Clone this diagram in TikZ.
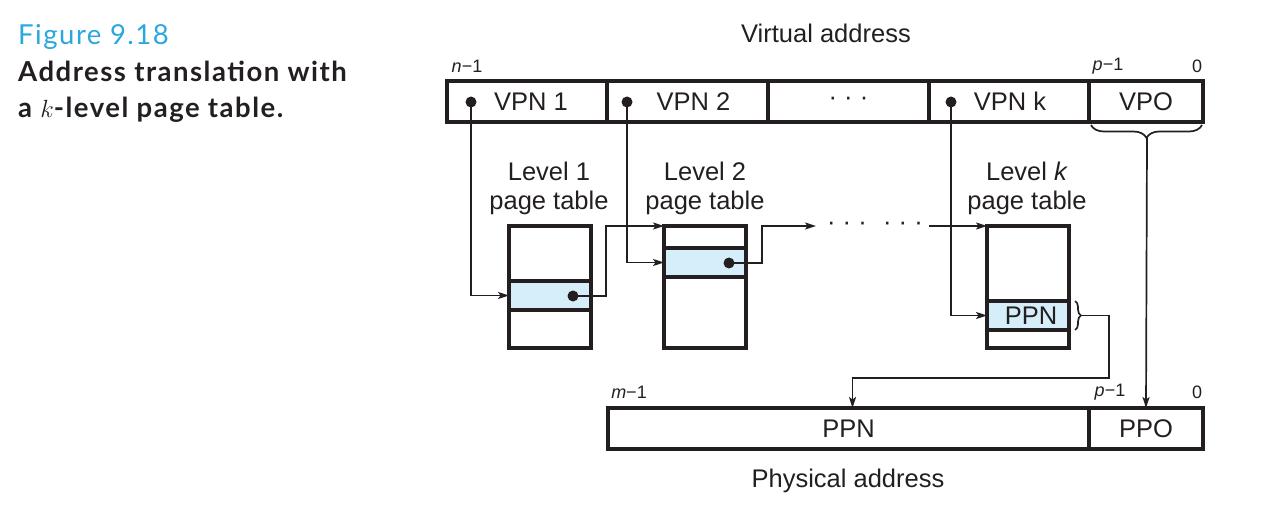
\documentclass[tikz,border=0pt]{standalone}
\usepackage{fontspec}
\setmainfont{Liberation Sans}
\newfontfamily\capfont[LetterSpace=5.5]{Lato}
\usetikzlibrary{arrows.meta,decorations.pathreplacing}
\definecolor{ink}{HTML}{231F20}
\definecolor{figblue}{HTML}{2AA7DF}
\definecolor{rowblue}{HTML}{D5EEF9}
\begin{document}
\begin{tikzpicture}[x=1pt,y=-1pt,
  cell/.style={draw=ink, line width=3.2pt, inner sep=0pt, outer sep=0pt,
    anchor=north west, text=ink, font=\fontsize{25.5}{30}\selectfont},
  row/.style={cell, fill=rowblue},
  dot/.style={circle, fill=ink, minimum size=11pt, inner sep=0pt},
  conn/.style={draw=ink, line width=1.7pt,
    -{Stealth[length=11pt,width=7pt,inset=2.5pt]}},
  wire/.style={draw=ink, line width=1.7pt},
  lbl/.style={text=ink, font=\fontsize{25.5}{29}\selectfont, inner sep=0pt, align=center},
  bit/.style={text=ink, font=\fontsize{18}{20}\selectfont, inner sep=0pt},
  caption/.style={anchor=base west, inner sep=0pt, font=\capfont\fontsize{27.5}{30}\selectfont}
]
\useasboundingbox (0,0) rectangle (1287,505);

% caption
\node[caption, text=figblue] (cap1) at (18,45) {Figure 9.18};
\node[caption, text=ink] (cap2) at (18,82) {\bfseries Address translation with};
\node[caption, text=ink] (cap3) at (18,118) {\bfseries a $k$-level page table.};

% virtual address
\node[lbl] (valbl) at (826,33) {Virtual address};
\node[bit] (vn) at (467,66) {\textit{n}−1};
\node[bit] (vp) at (1108,66) {\textit{p}−1};
\node[bit] (v0) at (1197,66) {0};
\node[cell, minimum width=160pt, minimum height=41pt] (vpn1) at (447,81) {\hspace*{8pt}VPN 1};
\node[cell, minimum width=161pt, minimum height=41pt] (vpn2) at (607,81) {\hspace*{12pt}VPN 2};
\node[cell, minimum width=161pt, minimum height=41pt] (vdots) at (768,81) {· · ·};
\node[cell, minimum width=160pt, minimum height=41pt] (vpnk) at (929,81) {\hspace*{2pt}VPN k};
\node[cell, minimum width=114pt, minimum height=41pt] (vpo) at (1089,81) {VPO};
\node[dot] (d1) at (471,102) {};
\node[dot] (d2) at (627,102) {};
\node[dot] (dk) at (951,102) {};

% page tables
\node[lbl] (t1lbl) at (549,188) {Level 1\\page table};
\node[lbl] (t2lbl) at (705,188) {Level 2\\page table};
\node[lbl] (tklbl) at (1027,188) {Level \textit{k}\\page table};

\node[cell, minimum width=82pt, minimum height=122pt] (t1) at (509,226) {};
\node[row, minimum width=82pt, minimum height=29pt] (r1) at (509,281) {};
\node[dot] (e1) at (573,296) {};

\node[cell, minimum width=82pt, minimum height=122pt] (t2) at (664,226) {};
\node[row, minimum width=82pt, minimum height=29pt] (r2) at (664,248) {};
\node[dot] (e2) at (729,263) {};

\node[cell, minimum width=82pt, minimum height=122pt] (tk) at (987,226) {};
\node[row, minimum width=82pt, minimum height=29pt] (rk) at (987,301) {\hspace*{6pt}PPN};

% chain of levels
\coordinate (chainA) at (816,226);
\coordinate (chainB) at (929,226);
\node[lbl] (ellA) at (847,226) {· · ·};
\node[lbl] (ellB) at (903,226) {· · ·};

\draw[conn] (d1.center) |- (r1.west);
\draw[conn] (d2.center) |- (r2.west);
\draw[conn] (dk.center) |- (rk.west);
\draw[conn] (e1.center) -- ++(33,0) |- (t2.north west);
\draw[conn] (e2.center) -- ++(33,0) |- (chainA);
\draw[conn] (chainB) -- (tk.north west);

% braces
\draw[wire, decorate, decoration={brace, mirror, amplitude=13pt}] (1091,125) -- (1202,125);
\coordinate (vpotip) at (1147,138);
\draw[wire, decorate, decoration={brace, amplitude=6pt}] (1075,301) -- (1075,330);
\coordinate (ppntip) at (1081,315.5);

% physical address
\node[bit] (pm) at (629,392) {\textit{m}−1};
\node[bit] (pp) at (1110,392) {\textit{p}−1};
\node[bit] (p0) at (1197,392) {0};
\node[cell, minimum width=481pt, minimum height=41pt] (pppn) at (608,408) {PPN};
\node[cell, minimum width=114pt, minimum height=41pt] (ppo) at (1089,408) {PPO};
\node[lbl] (palbl) at (848,481) {Physical address};

\draw[conn] (vpotip) -- (ppo.north);
\draw[conn] (ppntip) -| (1109,378) -| ([xshift=4pt]pppn.north);
\end{tikzpicture}
\end{document}
